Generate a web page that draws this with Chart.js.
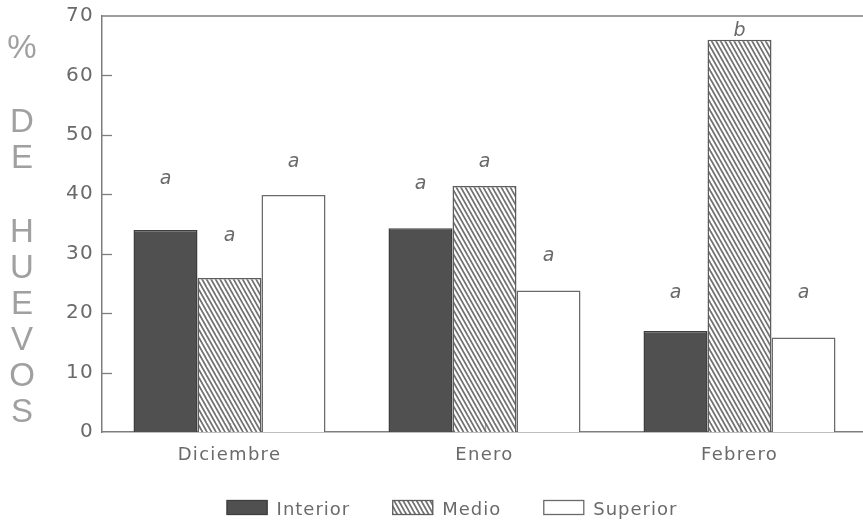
<!DOCTYPE html>
<html>
<head>
<meta charset="utf-8">
<script src="https://cdn.jsdelivr.net/npm/chart.js@4/dist/chart.umd.min.js"></script>
<style>
  html, body { margin: 0; padding: 0; background: #ffffff; overflow: hidden; }
  #wrap { width: 863px; height: 531px; overflow: hidden; position: relative; }
  canvas { display: block; }
</style>
</head>
<body>
<div id="wrap"><canvas id="c" width="870" height="531"></canvas></div>
<script>
// Months sampled and nest-position series (% of eggs)
const categories = ['Diciembre', 'Enero', 'Febrero'];
const seriesNames = ['Interior', 'Medio', 'Superior'];
const interior = [34.0, 34.3, 17.0];
const medio = [25.9, 41.4, 66.0];
const superior = [39.9, 23.8, 15.9];

// Significance letters and the height (in %) at which each one is written
const interiorLetters = ['a', 'a', 'a'];
const medioLetters = ['a', 'a', 'b'];
const superiorLetters = ['a', 'a', 'a'];
const interiorLetterAt = [42.5, 41.7, 23.3];
const medioLetterAt = [32.9, 45.5, 67.4];
const superiorLetterAt = [45.5, 29.6, 23.3];

// Value axis
const yTickValues = [0, 10, 20, 30, 40, 50, 60, 70];
const yTitle = '% DE HUEVOS';

const TEXT = '#6a6a6a';
const AXIS = '#7e7e7e';
const SPACING = '1.3px';
const FONT = '"DejaVu Sans", Verdana, sans-serif';

function hatchPattern(ctx) {
  const t = document.createElement('canvas');
  t.width = 9; t.height = 16;
  const g = t.getContext('2d');
  g.fillStyle = '#ffffff';
  g.fillRect(0, 0, 9, 16);
  g.strokeStyle = '#707070';
  g.lineWidth = 1.7;
  for (let k = -4; k <= 4; k++) {
    const ox = k * 4.5;
    g.beginPath();
    g.moveTo(ox - 9, -16);
    g.lineTo(ox + 18, 32);
    g.stroke();
  }
  return ctx.createPattern(t, 'repeat');
}

const canvas = document.getElementById('c');
const ctx = canvas.getContext('2d');
const hatch = hatchPattern(ctx);

const fills = ['#505050', hatch, '#ffffff'];
const borders = ['#3e3e3e', '#5e5e5e', '#6a6a6a'];
const seriesValues = [interior, medio, superior];
const seriesLetters = [interiorLetters, medioLetters, superiorLetters];
const seriesLetterAt = [interiorLetterAt, medioLetterAt, superiorLetterAt];

// Slightly spaced lettering for ticks and labels
const spacedText = {
  id: 'spacedText',
  afterInit(chart) { chart.ctx.letterSpacing = SPACING; },
  beforeUpdate(chart) { chart.ctx.letterSpacing = SPACING; },
  beforeDraw(chart) { chart.ctx.letterSpacing = SPACING; }
};

// Frame top line and inward tick marks
const frameAndTicks = {
  id: 'frameAndTicks',
  afterDatasetsDraw(chart) {
    const { ctx, chartArea: a, scales: { x, y } } = chart;
    ctx.save();
    ctx.strokeStyle = AXIS;
    ctx.lineWidth = 1.5;
    ctx.beginPath();
    ctx.moveTo(a.left, a.top);
    ctx.lineTo(a.right, a.top);
    ctx.stroke();
    ctx.lineWidth = 1.3;
    yTickValues.forEach(v => {
      if (v === 0 || v === 70) return;
      const py = Math.round(y.getPixelForValue(v)) + 0.5;
      ctx.beginPath();
      ctx.moveTo(a.left, py);
      ctx.lineTo(a.left + 10, py);
      ctx.stroke();
    });
    ctx.strokeStyle = 'rgba(110,110,110,0.6)';
    categories.forEach((c, i) => {
      const px = Math.round(x.getPixelForValue(i)) + 0.5;
      ctx.beginPath();
      ctx.moveTo(px, a.bottom);
      ctx.lineTo(px, a.bottom - 9);
      ctx.stroke();
    });
    ctx.restore();
  }
};

// Significance letters above the bars
const letterMarks = {
  id: 'letterMarks',
  afterDatasetsDraw(chart) {
    const { ctx, scales: { y } } = chart;
    ctx.save();
    ctx.letterSpacing = '0px';
    ctx.font = 'italic 19px ' + FONT;
    ctx.fillStyle = TEXT;
    ctx.textAlign = 'center';
    ctx.textBaseline = 'middle';
    seriesLetters.forEach((letters, d) => {
      const meta = chart.getDatasetMeta(d);
      letters.forEach((l, i) => {
        ctx.fillText(l, meta.data[i].x, y.getPixelForValue(seriesLetterAt[d][i]));
      });
    });
    ctx.restore();
  }
};

// Vertical stacked axis title and bottom legend
const titleAndLegend = {
  id: 'titleAndLegend',
  afterDraw(chart) {
    const { ctx } = chart;
    ctx.save();
    // axis title, one character per line; word breaks get extra room
    ctx.letterSpacing = '0px';
    ctx.font = '33px "Liberation Sans", Arial, sans-serif';
    ctx.fillStyle = '#a0a0a0';
    ctx.textAlign = 'center';
    ctx.textBaseline = 'middle';
    let rowY = 49;
    yTitle.split('').forEach((ch) => {
      if (ch === ' ') { rowY += 38; return; }
      ctx.fillText(ch, 22, rowY);
      rowY += 36;
    });

    // legend
    ctx.letterSpacing = '1px';
    ctx.font = '18px ' + FONT;
    ctx.textAlign = 'left';
    ctx.textBaseline = 'alphabetic';
    const boxW = 41, boxH = 15, gapBox = 9, gapItem = 42;
    const widths = seriesNames.map(n => boxW + gapBox + ctx.measureText(n).width);
    const total = widths.reduce((s, w) => s + w, 0) + gapItem * (seriesNames.length - 1);
    let x0 = 452 - total / 2;
    const base = 515;
    seriesNames.forEach((n, i) => {
      ctx.fillStyle = fills[i];
      ctx.fillRect(x0, base - boxH, boxW, boxH);
      ctx.strokeStyle = borders[i];
      ctx.lineWidth = 1.3;
      ctx.strokeRect(x0 + 0.5, base - boxH + 0.5, boxW - 1, boxH - 1);
      ctx.fillStyle = TEXT;
      ctx.fillText(n, x0 + boxW + gapBox, base);
      x0 += widths[i] + gapItem;
    });
    ctx.restore();
  }
};

new Chart(ctx, {
  type: 'bar',
  data: {
    labels: categories,
    datasets: seriesNames.map((name, i) => ({
      label: name,
      data: seriesValues[i],
      backgroundColor: fills[i],
      borderColor: borders[i],
      borderWidth: 1.5,
      borderSkipped: 'bottom'
    }))
  },
  options: {
    responsive: false,
    animation: false,
    devicePixelRatio: 1,
    layout: { padding: { top: 16, right: 3, left: 0, bottom: 0 } },
    datasets: { bar: { categoryPercentage: 0.753, barPercentage: 1.0 } },
    plugins: { legend: { display: false }, tooltip: { enabled: false } },
    scales: {
      x: {
        grid: { display: false, drawTicks: false },
        border: { display: true, color: AXIS, width: 1.5 },
        ticks: {
          color: TEXT,
          padding: 13,
          font: { family: FONT, size: 18 }
        },
        afterFit(s) { s.height = 99; s.paddingLeft = 0; s.paddingRight = 0; }
      },
      y: {
        min: 0,
        max: 70,
        grid: { display: false, drawTicks: false },
        border: { display: true, color: AXIS, width: 1.5 },
        afterBuildTicks(s) { s.ticks = yTickValues.map(v => ({ value: v })); },
        ticks: {
          color: TEXT,
          padding: 8,
          font: { family: FONT, size: 20 }
        },
        afterFit(s) { s.width = 102; s.paddingTop = 0; s.paddingBottom = 0; }
      }
    }
  },
  plugins: [spacedText, frameAndTicks, letterMarks, titleAndLegend]
});
</script>
</body>
</html>
